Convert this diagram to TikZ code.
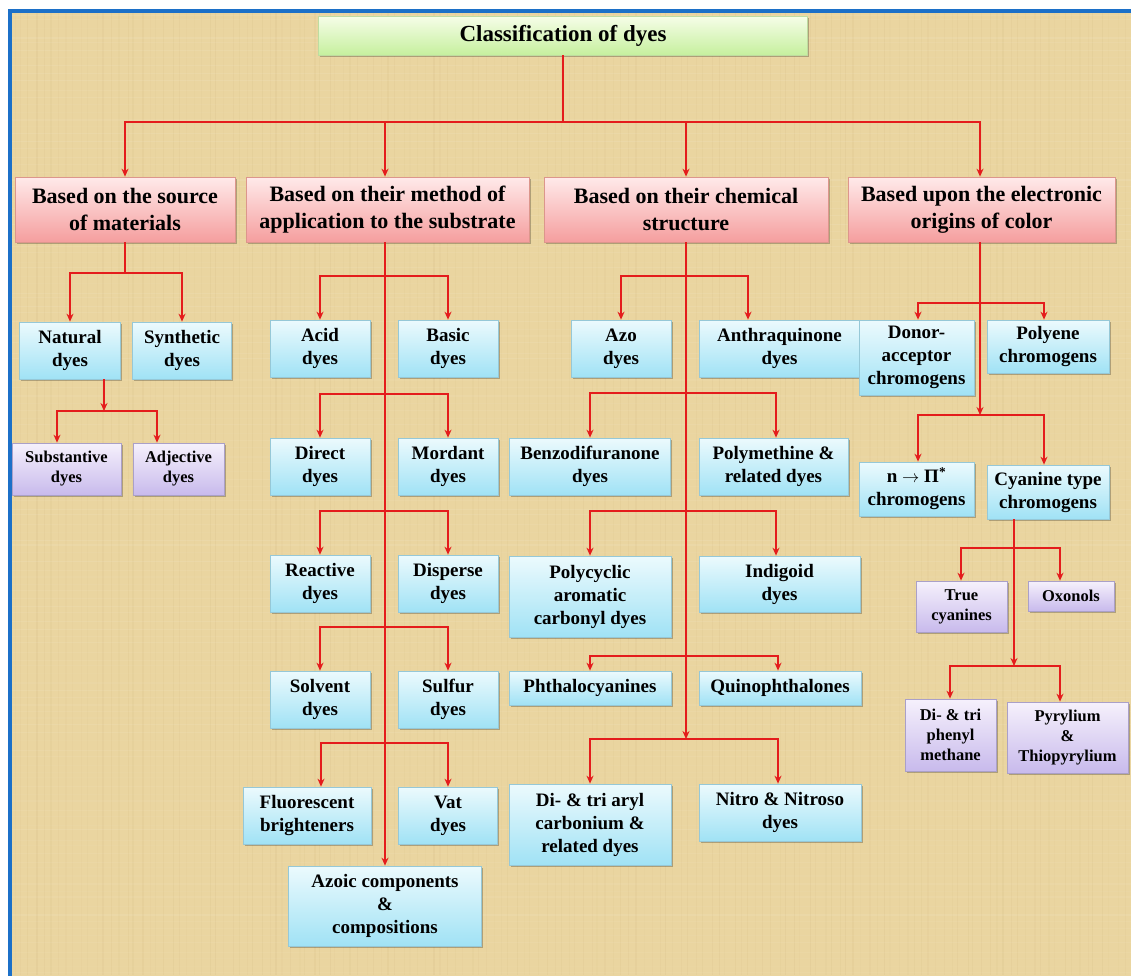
\documentclass[tikz,border=0pt]{standalone}
\usepackage{fontspec}
\setmainfont{Liberation Serif}
\usetikzlibrary{arrows.meta,shadows}
\definecolor{bgtan}{RGB}{234,213,160}
\definecolor{bgdark}{RGB}{190,160,100}
\definecolor{frameblue}{RGB}{28,112,200}
\definecolor{lnred}{RGB}{228,28,28}
\definecolor{bluetop}{RGB}{236,250,253}
\definecolor{bluebot}{RGB}{160,226,245}
\definecolor{blueedge}{RGB}{150,200,215}
\definecolor{pinktop}{RGB}{255,234,234}
\definecolor{pinkbot}{RGB}{245,158,158}
\definecolor{pinkedge}{RGB}{220,150,140}
\definecolor{purptop}{RGB}{246,241,252}
\definecolor{purpbot}{RGB}{200,186,236}
\definecolor{purpedge}{RGB}{170,160,200}
\definecolor{greentop}{RGB}{246,253,232}
\definecolor{greenbot}{RGB}{198,240,158}
\definecolor{greenedge}{RGB}{190,220,160}
\tikzset{
  basebox/.style={rectangle, align=center, inner sep=1pt, line width=0.7pt,
    drop shadow={shadow xshift=1.5pt, shadow yshift=-1.5pt, opacity=0.25, fill=black}},
  sz/.style 2 args={minimum width=#1, minimum height=#2},
  titlebox/.style={basebox, draw=greenedge, top color=greentop, bottom color=greenbot,
    font={\fontsize{23}{27}\selectfont\bfseries}},
  headbox/.style={basebox, draw=pinkedge, top color=pinktop, bottom color=pinkbot,
    font={\fontsize{22}{27}\selectfont\bfseries}},
  bluebox/.style={basebox, draw=blueedge, top color=bluetop, bottom color=bluebot,
    font={\fontsize{19}{23}\selectfont\bfseries}},
  purpbox/.style={basebox, draw=purpedge, top color=purptop, bottom color=purpbot,
    font={\fontsize{16.5}{20}\selectfont\bfseries}},
  link/.style={draw=lnred, line width=2pt},
  arr/.style={link, -{Stealth[length=8pt,width=7pt]}},
}
\begin{document}
\begin{tikzpicture}[x=1pt,y=-1pt]
\useasboundingbox (0,0) rectangle (1131,975);
\fill[white] (0,0) rectangle (1131,975);
\begin{scope}
\clip (0,0) rectangle (1131,975);
\fill[bgtan] (9.5,10.5) rectangle (1150,995);
\pgfmathsetseed{7}
\foreach \i in {0,...,150} {
  \pgfmathsetmacro{\xx}{12+\i*7.5+rnd*4}
  \pgfmathsetmacro{\oo}{0.03+rnd*0.07}
  \draw[bgdark, opacity=\oo, line width=1.2pt] (\xx,12) -- (\xx,975);
}
\foreach \i in {0,...,130} {
  \pgfmathsetmacro{\yy}{12+\i*7.5+rnd*4}
  \pgfmathsetmacro{\oo}{0.03+rnd*0.06}
  \draw[white, opacity=\oo, line width=1.2pt] (12,\yy) -- (1131,\yy);
}
\draw[frameblue, line width=4pt] (9.5,10.5) rectangle (1150,995);
\end{scope}

% title
\node[titlebox, sz={489}{39}] (title) at (563,35.5) {Classification of dyes};

% headers
\node[headbox, sz={220}{65}] (h1) at (125,209.5) {Based on the source\\of materials};
\node[headbox, sz={283}{65}] (h2) at (387.5,209.5) {Based on their method of\\application to the substrate};
\node[headbox, sz={284}{65}] (h3) at (686,209.5) {Based on their chemical\\structure};
\node[headbox, sz={267}{65}] (h4) at (981.5,209.5) {Based upon the electronic\\origins of color};

% column 1
\node[bluebox, sz={101}{57}] (nat) at (70,350.5) {Natural\\dyes};
\node[bluebox, sz={99}{57}] (syn) at (182,350.5) {Synthetic\\dyes};
\node[purpbox, sz={109}{52}] (sub) at (66.5,469) {Substantive\\dyes};
\node[purpbox, sz={91}{52}] (adj) at (178.5,469) {Adjective\\dyes};

% column 2
\node[bluebox, sz={100}{57}] (acid) at (320,348.5) {Acid\\dyes};
\node[bluebox, sz={100}{57}] (basic) at (448,348.5) {Basic\\dyes};
\node[bluebox, sz={100}{57}] (direct) at (320,466.5) {Direct\\dyes};
\node[bluebox, sz={100}{57}] (mordant) at (448,466.5) {Mordant\\dyes};
\node[bluebox, sz={100}{57}] (reactive) at (320,583.5) {Reactive\\dyes};
\node[bluebox, sz={100}{57}] (disperse) at (448,583.5) {Disperse\\dyes};
\node[bluebox, sz={100}{57}] (solvent) at (320,699.5) {Solvent\\dyes};
\node[bluebox, sz={100}{57}] (sulfur) at (448,699.5) {Sulfur\\dyes};
\node[bluebox, sz={128}{57}] (fluor) at (307,815.5) {Fluorescent\\brighteners};
\node[bluebox, sz={99}{57}] (vat) at (448,815.5) {Vat\\dyes};
\node[bluebox, sz={193}{80}] (azoic) at (385,906) {Azoic components\\\&\\compositions};

% column 3
\node[bluebox, sz={100}{57}] (azo) at (621,348.5) {Azo\\dyes};
\node[bluebox, sz={161}{57}] (anthra) at (779.5,348.5) {Anthraquinone\\dyes};
\node[bluebox, sz={161}{57}] (benzo) at (590,466.5) {Benzodifuranone\\dyes};
\node[bluebox, sz={149}{57}] (polym) at (773.5,466.5) {Polymethine \&\\related dyes};
\node[bluebox, sz={162}{81}] (polyc) at (590,596.5) {Polycyclic\\aromatic\\carbonyl dyes};
\node[bluebox, sz={161}{56}] (indigo) at (779.5,584) {Indigoid\\dyes};
\node[bluebox, sz={162}{34}] (phthalo) at (590,688) {Phthalocyanines};
\node[bluebox, sz={162}{34}] (quino) at (780,688) {Quinophthalones};
\node[bluebox, sz={162}{81}] (diaryl) at (590,824.5) {Di- \& tri aryl\\carbonium \&\\related dyes};
\node[bluebox, sz={162}{57}] (nitro) at (780,812.5) {Nitro \& Nitroso\\dyes};

% column 4
\node[bluebox, sz={115}{75}] (donor) at (916.5,357.5) {Donor-\\acceptor\\chromogens};
\node[bluebox, sz={122}{53}] (polyene) at (1048,346.5) {Polyene\\chromogens};
\node[bluebox, sz={115}{54}] (npi) at (916.5,489) {n $\rightarrow$ Π\textsuperscript{*}\\chromogens};
\node[bluebox, sz={122}{54}] (cyan) at (1048,492) {Cyanine type\\chromogens};
\node[purpbox, sz={91}{51}] (truecy) at (961.5,606.5) {True\\cyanines};
\node[purpbox, sz={86}{30}] (oxon) at (1071,596) {Oxonols};
\node[purpbox, sz={91}{72}] (diphen) at (950.5,735) {Di- \& tri\\phenyl\\methane};
\node[purpbox, sz={121}{71}] (pyry) at (1067.5,737.5) {Pyrylium\\\&\\Thiopyrylium};

% junction points
\coordinate (jT) at (563,122);
\coordinate (j1) at (125,273);
\coordinate (jN) at (104,411);
\coordinate (jA) at (385,276);
\coordinate (jB) at (385,394);
\coordinate (jC) at (385,511);
\coordinate (jD) at (385,627);
\coordinate (jE) at (385,743);
\coordinate (k1) at (686,276);
\coordinate (k2) at (686,393);
\coordinate (k3) at (686,511);
\coordinate (k4) at (686,656);
\coordinate (k5) at (686,739);
\coordinate (m1) at (980,303);
\coordinate (m2) at (980,415);
\coordinate (c1) at (1014,548);
\coordinate (c2) at (1014,666);

% top level
\draw[link] (title.south) -- (jT);
\draw[arr] (jT) -| (h1.north);
\draw[arr] (jT) -| ([xshift=-2.5pt]h2.north);
\draw[arr] (jT) -| (h3.north);
\draw[arr] (jT) -| ([xshift=-1.5pt]h4.north);

% column 1 links
\draw[link] (h1.south) -- (j1);
\draw[arr] (j1) -| (nat.north);
\draw[arr] (j1) -| (syn.north);
\draw[arr] ([xshift=34pt]nat.south) -- (jN);
\draw[arr] (jN) -| ([xshift=-9.5pt]sub.north);
\draw[arr] (jN) -| ([xshift=-21.5pt]adj.north);

% column 2 links
\draw[arr] (azoic.north |- h2.south) -- (azoic.north);
\draw[arr] (jA) -| (acid.north);
\draw[arr] (jA) -| (basic.north);
\draw[arr] (jB) -| (direct.north);
\draw[arr] (jB) -| (mordant.north);
\draw[arr] (jC) -| (reactive.north);
\draw[arr] (jC) -| (disperse.north);
\draw[arr] (jD) -| (solvent.north);
\draw[arr] (jD) -| (sulfur.north);
\draw[arr] (jE) -| ([xshift=14pt]fluor.north);
\draw[arr] (jE) -| (vat.north);

% column 3 links
\draw[arr] (h3.south) -- (k5);
\draw[arr] (k1) -| (azo.north);
\draw[arr] (k1) -| ([xshift=-31.5pt]anthra.north);
\draw[arr] (k2) -| (benzo.north);
\draw[arr] (k2) -| ([xshift=2.5pt]polym.north);
\draw[arr] (k3) -| (polyc.north);
\draw[arr] (k3) -| ([xshift=-3.5pt]indigo.north);
\draw[arr] (k4) -| (phthalo.north);
\draw[arr] (k4) -| ([xshift=-2pt]quino.north);
\draw[arr] (k5) -| (diaryl.north);
\draw[arr] (k5) -| ([xshift=-2pt]nitro.north);

% column 4 links
\draw[arr] ([xshift=-1.5pt]h4.south) -- (m2);
\draw[arr] (m1) -| ([xshift=1.5pt]donor.north);
\draw[arr] (m1) -| ([xshift=-4pt]polyene.north);
\draw[arr] (m2) -| ([xshift=1.5pt]npi.north);
\draw[arr] (m2) -| ([xshift=-4pt]cyan.north);
\draw[link] ([xshift=-34pt]cyan.south) -- (c1);
\draw[arr] (c1) -- (c2);
\draw[arr] (c1) -| ([xshift=-0.5pt]truecy.north);
\draw[arr] (c1) -| ([xshift=-11pt]oxon.north);
\draw[arr] (c2) -| ([xshift=-0.5pt]diphen.north);
\draw[arr] (c2) -| ([xshift=-7.5pt]pyry.north);
\end{tikzpicture}
\end{document}
